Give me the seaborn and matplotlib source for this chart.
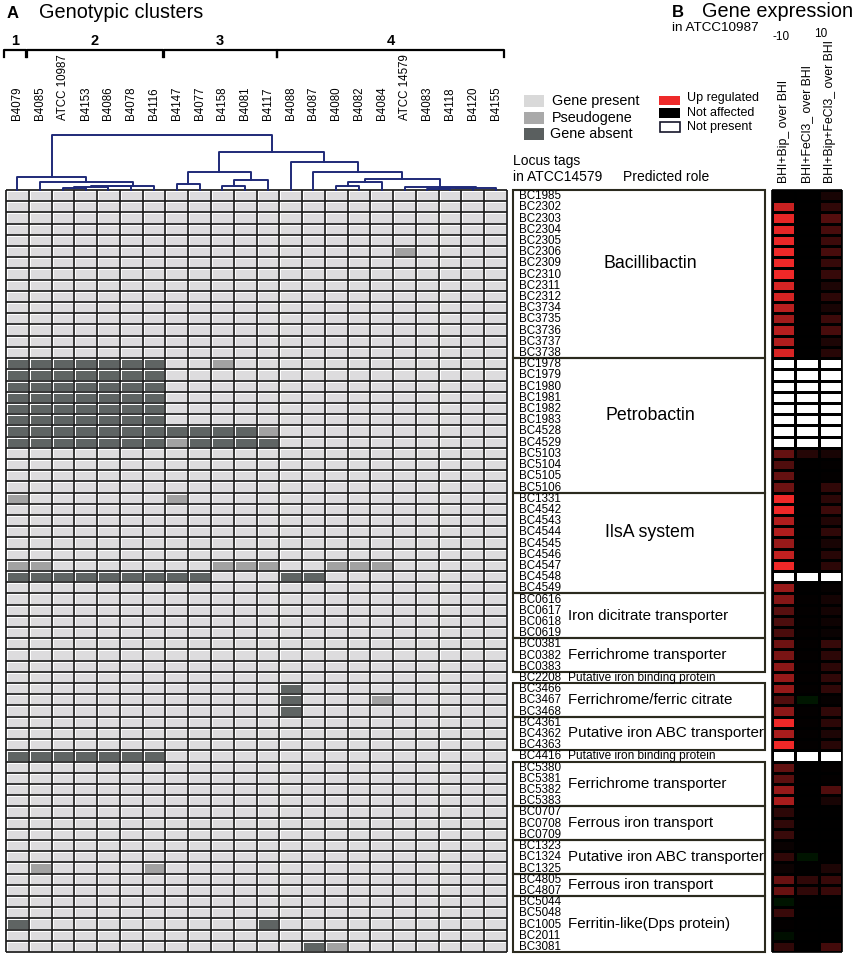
import numpy as np
import pandas as pd
import matplotlib
matplotlib.use("Agg")
import matplotlib.pyplot as plt
from matplotlib.colors import ListedColormap, LinearSegmentedColormap
from matplotlib.patches import Rectangle
from matplotlib.transforms import blended_transform_factory
import seaborn as sns

W, H = 856, 957
nan = np.nan

# strains in dendrogram order
strains = ["B4079", "B4085", "ATCC 10987", "B4153", "B4086", "B4078", "B4116",
           "B4147", "B4077", "B4158", "B4081", "B4117",
           "B4088", "B4087", "B4080", "B4082", "B4084", "ATCC 14579",
           "B4083", "B4118", "B4120", "B4155"]

clusters = ["1", "2", "3", "4"]
cluster_first = [0, 1, 7, 12]
cluster_last = [0, 6, 11, 21]

# dendrogram merges: (left node, right node, height); leaves are 0..21
merges = [(2, 3, 2.4), (22, 4, 2.8), (23, 5, 3.6), (24, 6, 4.2), (1, 25, 7.7), (0, 26, 13.0),
          (7, 8, 6.0), (9, 10, 3.7), (29, 11, 9.7), (28, 30, 18.0),
          (14, 15, 4.0), (32, 16, 8.0), (18, 19, 1.5), (34, 20, 2.0), (35, 21, 2.5),
          (17, 36, 3.0), (33, 37, 11.3), (13, 38, 18.0), (12, 39, 27.7),
          (31, 40, 38.0), (27, 41, 54.7)]

roles = ["Bacillibactin", "Petrobactin", "IlsA system", "Iron dicitrate transporter",
         "Ferrichrome transporter", "Putative iron binding protein",
         "Ferrichrome/ferric citrate", "Putative iron ABC transporter",
         "Putative iron binding protein", "Ferrichrome transporter",
         "Ferrous iron transport", "Putative iron ABC transporter",
         "Ferrous iron transport", "Ferritin-like(Dps protein)"]
role_sizes = [15, 12, 9, 4, 3, 1, 3, 3, 1, 4, 3, 3, 2, 5]

locus_tags = ["BC1985", "BC2302", "BC2303", "BC2304", "BC2305", "BC2306", "BC2309",
              "BC2310", "BC2311", "BC2312", "BC3734", "BC3735", "BC3736", "BC3737", "BC3738",
              "BC1978", "BC1979", "BC1980", "BC1981", "BC1982", "BC1983", "BC4528", "BC4529",
              "BC5103", "BC5104", "BC5105", "BC5106",
              "BC1331", "BC4542", "BC4543", "BC4544", "BC4545", "BC4546", "BC4547", "BC4548", "BC4549",
              "BC0616", "BC0617", "BC0618", "BC0619",
              "BC0381", "BC0382", "BC0383",
              "BC2208",
              "BC3466", "BC3467", "BC3468",
              "BC4361", "BC4362", "BC4363",
              "BC4416",
              "BC5380", "BC5381", "BC5382", "BC5383",
              "BC0707", "BC0708", "BC0709",
              "BC1323", "BC1324", "BC1325",
              "BC4805", "BC4807",
              "BC5044", "BC5048", "BC1005", "BC2011", "BC3081"]

# genotype calls that differ from "present": . present, p pseudogene, X absent
geno_calls = {
    "BC2306": ".................p....",
    "BC1978": "XXXXXXX..p............",
    "BC1979": "XXXXXXX...............",
    "BC1980": "XXXXXXX...............",
    "BC1981": "XXXXXXX...............",
    "BC1982": "XXXXXXX...............",
    "BC1983": "XXXXXXX...............",
    "BC4528": "XXXXXXXXXXXp..........",
    "BC4529": "XXXXXXXpXXXX..........",
    "BC1331": "p......p..............",
    "BC4547": "pp.......ppp..ppp.....",
    "BC4548": "XXXXXXXXX...XX........",
    "BC3466": "............X.........",
    "BC3467": "............X...p.....",
    "BC3468": "............X.........",
    "BC4416": "XXXXXXX...............",
    "BC1325": ".p....p...............",
    "BC1005": "X..........X..........",
    "BC3081": ".............Xp.......",
}

expr_labels = ["BHI+Bip_ over BHI", "BHI+FeCl3_ over BHI", "BHI+Bip+FeCl3_ over BHI"]

expr_bip = [0.0, 8.3, 9.6, 9.6, 9.7, 9.9, 10.0, 10.0, 8.9, 8.8, 7.7, 6.7, 7.5, 7.3, 9.0,
            nan, nan, nan, nan, nan, nan, nan, nan, 4.2, 3.3, 4.2, 4.6,
            10.0, 10.0, 7.3, 7.3, 6.3, 8.0, 10.0, nan, 6.3,
            5.5, 3.6, 3.2, 3.1,
            4.6, 5.0, 5.8,
            6.2,
            6.2, 3.3, 5.8,
            10.0, 7.0, 10.0,
            nan,
            4.0, 3.8, 6.2, 7.0,
            1.8, 2.0, 2.4,
            0.4, 2.0, 0.5,
            4.3, 4.3,
            -0.9, 2.3, 0.1, -0.7, 2.0]
expr_fe = [0.0, 0.0, 0.0, 0.0, 0.0, 0.0, 0.0, 0.0, 0.0, 0.0, 0.0, 0.0, 0.0, 0.0, 0.0,
           nan, nan, nan, nan, nan, nan, nan, nan, 1.5, 0.0, 0.0, 0.0,
           0.0, 0.0, 0.0, 0.0, 0.0, 0.0, 0.0, nan, 0.0,
           0.1, 0.1, 0.1, 0.1,
           0.1, 0.1, 0.1,
           0.1,
           0.1, -1.0, 0.1,
           0.1, 0.1, 0.1,
           nan,
           0.0, 0.0, 0.0, 0.0,
           0.0, 0.0, 0.0,
           0.0, -0.9, 0.0,
           2.0, 2.0,
           0.0, 0.0, 0.0, 0.0, 0.0]
expr_bipfe = [1.0, 2.0, 3.5, 3.0, 2.5, 3.0, 2.2, 2.2, 1.2, 1.8, 1.0, 2.5, 3.0, 1.2, 1.6,
              nan, nan, nan, nan, nan, nan, nan, nan, 1.0, 0.1, 0.1, 2.0,
              1.8, 2.5, 1.4, 2.0, 1.0, 1.6, 1.8, nan, 0.2,
              0.8, 0.8, 0.6, 0.4,
              2.2, 1.8, 1.8,
              2.0,
              2.0, 0.2, 2.0,
              1.8, 1.2, 1.6,
              nan,
              0.1, 0.1, 3.3, 1.0,
              0.0, 0.0, 0.0,
              0.0, 0.0, 1.2,
              2.3, 2.3,
              0.0, 0.0, 0.0, 0.0, 2.8]

plt.rcParams["font.family"] = ["Liberation Sans", "DejaVu Sans"]

code = {".": 0, "p": 1, "X": 2}
geno = pd.DataFrame(0, index=locus_tags, columns=strains)
for tag, calls in geno_calls.items():
    geno.loc[tag] = [code[c] for c in calls]

expr = pd.DataFrame({expr_labels[0]: expr_bip, expr_labels[1]: expr_fe,
                     expr_labels[2]: expr_bipfe}, index=locus_tags)

fig = plt.figure(figsize=(W / 100, H / 100), dpi=100)


def px_axes(x0, y0, x1, y1):
    return fig.add_axes([x0 / W, 1 - y1 / H, (x1 - x0) / W, (y1 - y0) / H])


def ftext(x, y, s, **kw):
    fig.text(x / W, 1 - y / H, s, **kw)


def fbox(x, y, w, h, **kw):
    fig.add_artist(Rectangle((x / W, 1 - (y + h) / H), w / W, h / H,
                             transform=fig.transFigure, **kw))


grid_col = "#1c1c1c"
navy = "#1f2a78"
n_rows = len(locus_tags)

# --- genotype heatmap
ax_geno = px_axes(6, 190, 507, 952)
geno_cmap = ListedColormap(["#dddcde", "#a2a2a2", "#5f6463"])
sns.heatmap(geno, ax=ax_geno, cmap=geno_cmap, vmin=-0.5, vmax=2.5, cbar=False,
            linewidths=2.1, linecolor="white", xticklabels=False, yticklabels=False)
ax_geno.hlines(range(n_rows + 1), 0, len(strains), color=grid_col, lw=1.25, clip_on=False)
ax_geno.vlines(range(len(strains) + 1), 0, n_rows, color=grid_col, lw=1.25, clip_on=False)
ax_geno.set_xlabel("")
ax_geno.set_ylabel("")

# --- dendrogram + strain labels + cluster brackets
ax_den = px_axes(6, 133, 507, 190)
ax_den.set_xlim(0, len(strains))
ax_den.set_ylim(0, 57)
ax_den.axis("off")
node_x = {i: i + 0.5 for i in range(len(strains))}
node_h = {i: 0.0 for i in range(len(strains))}
for k, (a, b, h) in enumerate(merges):
    xa, xb = node_x[a], node_x[b]
    ax_den.plot([xa, xa, xb, xb], [node_h[a], h, h, node_h[b]], color=navy, lw=1.4,
                clip_on=False)
    node_x[len(strains) + k] = (xa + xb) / 2
    node_h[len(strains) + k] = h

for i, s in enumerate(strains):
    ax_den.text(i + 0.5, 70, s, rotation=90, ha="center", va="bottom", fontsize=8.3,
                clip_on=False)

for lab, c0, c1 in zip(clusters, cluster_first, cluster_last):
    x0, x1 = c0 - 0.08, c1 + 0.88
    ax_den.plot([x0, x0, x1, x1], [133, 140, 140, 133], color="black", lw=1.6,
                solid_joinstyle="round", clip_on=False)
    ax_den.text((x0 + x1) / 2, 149, lab, ha="center", va="center", fontsize=10.5,
                fontweight="bold", clip_on=False)

# --- locus tags and predicted roles
ax_tags = px_axes(512, 190, 766, 952)
ax_tags.set_xlim(0, 254)
ax_tags.set_ylim(n_rows, 0)
ax_tags.axis("off")
for r, tag in enumerate(locus_tags):
    ax_tags.text(7, r + 0.55, tag, fontsize=8.4, va="center")
start = 0
for role, n in zip(roles, role_sizes):
    mid = start + n / 2
    if n > 1:
        ax_tags.add_patch(Rectangle((1, start), 252, n, fill=False, edgecolor="#2b2a1e",
                                    lw=1.5, clip_on=False))
    if n >= 9:
        ax_tags.text(138, mid - 0.9, role, ha="center", va="center", fontsize=12.8)
    elif n > 1:
        ax_tags.text(56, mid, role, ha="left", va="center", fontsize=10.9)
    else:
        ax_tags.text(56, mid + 0.05, role, ha="left", va="center", fontsize=8.6)
    start += n

# --- expression heatmap
ax_expr = px_axes(772, 190, 842, 952)
expr_cmap = LinearSegmentedColormap.from_list("gkr", ["#00e000", "#000000", "#f02828"])
ax_expr.set_facecolor("white")
sns.heatmap(expr, ax=ax_expr, cmap=expr_cmap, vmin=-10, vmax=10, cbar=False,
            linewidths=1.0, linecolor="black", xticklabels=False, yticklabels=False)
ax_expr.hlines(range(n_rows + 1), 0, 3, color="black", lw=1.2, clip_on=False)
ax_expr.vlines(range(4), 0, n_rows, color="black", lw=1.2, clip_on=False)
ax_expr.set_xlabel("")
ax_expr.set_ylabel("")
tr = blended_transform_factory(ax_expr.transData, fig.transFigure)
for j, lab in enumerate(expr_labels):
    ax_expr.text(j + 0.5, 1 - 183 / H, lab, rotation=90, ha="center", va="bottom",
                 fontsize=8.8, transform=tr)
ax_expr.text(0.4, 1 - 37 / H, "-10", ha="center", va="center", fontsize=8.5, transform=tr)
ax_expr.text(2.1, 1 - 34 / H, "10", ha="center", va="center", fontsize=8.5, transform=tr)

# --- titles and header texts
ftext(7, 18, "A", fontsize=12, fontweight="bold", va="baseline")
ftext(39, 18, "Genotypic clusters", fontsize=14.3, va="baseline")
ftext(672, 17, "B", fontsize=12, fontweight="bold", va="baseline")
ftext(702, 17, "Gene expression", fontsize=14.3, va="baseline")
ftext(672, 28, "in ATCC10987", fontsize=9.7, va="center")
ftext(513, 161, "Locus tags", fontsize=10, va="center")
ftext(513, 177, "in ATCC14579", fontsize=10, va="center")
ftext(623, 177, "Predicted role", fontsize=10, va="center")

# --- legends
fbox(524, 95, 20, 12, facecolor="#d9d9d9", edgecolor="none")
fbox(524, 112, 20, 12, facecolor="#a9a9a9", edgecolor="none")
fbox(524, 128, 20, 12, facecolor="#5a5f5f", edgecolor="none")
ftext(552, 101, "Gene present", fontsize=10.4, va="center")
ftext(552, 118, "Pseudogene", fontsize=10.4, va="center")
ftext(550, 134, "Gene absent", fontsize=10.4, va="center")

fbox(659, 96, 21, 8.5, facecolor="#ee2a2a", edgecolor="none")
fbox(659, 108, 21, 10, facecolor="black", edgecolor="none")
fbox(659.5, 122, 20.5, 10, facecolor="white", edgecolor="#15152a", lw=1.2)
ftext(687, 98, "Up regulated", fontsize=9, va="center")
ftext(687, 113, "Not affected", fontsize=9, va="center")
ftext(687, 127, "Not present", fontsize=9, va="center")

fig.savefig("out.png", dpi=100)
